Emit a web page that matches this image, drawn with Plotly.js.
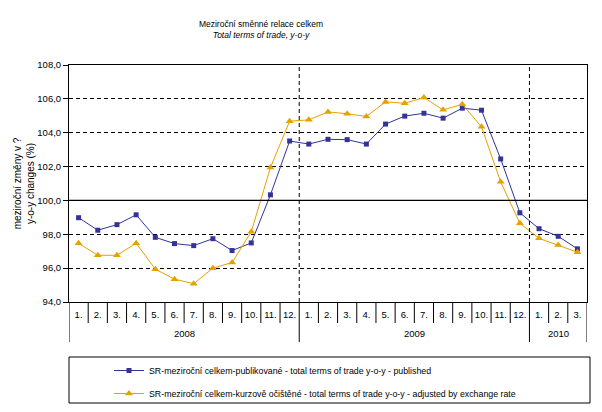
<!DOCTYPE html>
<html>
<head>
<meta charset="utf-8">
<script src="https://cdn.plot.ly/plotly-3.0.1.min.js"></script>
<style>html,body{margin:0;padding:0;background:#fff;}#chart{width:602px;height:412px;}</style>
</head>
<body>
<div id="chart"></div>
<script>
var months = ['1.','2.','3.','4.','5.','6.','7.','8.','9.','10.','11.','12.',
              '1.','2.','3.','4.','5.','6.','7.','8.','9.','10.','11.','12.',
              '1.','2.','3.'];
var years = ['2008','2009','2010'];
var yearCounts = [12, 12, 3];
var published = [98.98, 98.24, 98.57, 99.15, 97.82, 97.45, 97.33, 97.74, 97.04, 97.49, 100.33, 103.51,
                 103.33, 103.61, 103.59, 103.33, 104.51, 104.98, 105.15, 104.86, 105.45, 105.33, 102.45, 99.27,
                 98.33, 97.88, 97.14];
var adjusted = [97.47, 96.76, 96.76, 97.47, 95.94, 95.35, 95.08, 96.00, 96.33, 98.15, 101.94, 104.68,
                104.76, 105.23, 105.12, 104.96, 105.82, 105.74, 106.08, 105.35, 105.68, 104.35, 101.10, 98.65,
                97.76, 97.37, 96.94];
var seriesNames = ['SR-meziroční celkem-publikované - total terms of trade y-o-y - published',
                   'SR-meziroční celkem-kurzově očištěné - total terms of trade y-o-y - adjusted by exchange rate'];

var FONT = 'Arial, "Liberation Sans", sans-serif';
var BLUE = '#333399', ORANGE = '#E5A100';
var idx = months.map(function(_, i){ return i; });

var traces = [
  {x: idx, y: published, name: seriesNames[0], type: 'scatter', mode: 'lines+markers',
   line: {color: BLUE, width: 1}, marker: {symbol: 'square', size: 5, color: BLUE}, legendgroup: 'a'},
  {x: idx, y: adjusted, name: seriesNames[1], type: 'scatter', mode: 'lines+markers',
   line: {color: ORANGE, width: 1}, marker: {symbol: 'triangle-up', size: 7, color: ORANGE}, legendgroup: 'b'}
];

// table geometry (paper units below the plot)
var plotH = 237;
var monthRowBottom = -21 / plotH;
var yearRowBottom = -40 / plotH;
var yearLabelY = -31 / plotH;

var shapes = [
  {type: 'line', xref: 'paper', yref: 'y', x0: 0, x1: 1, y0: 100, y1: 100, line: {color: '#000', width: 1.2}}
];
var annotations = [];
var boundaries = [];
var start = 0;
years.forEach(function(yr, k){
  boundaries.push(start - 0.5);
  annotations.push({xref: 'x', yref: 'paper', x: start + yearCounts[k] / 2 - 0.5, y: yearLabelY,
    text: yr, showarrow: false, font: {family: FONT, size: 9.5, color: '#000'}, yanchor: 'middle'});
  start += yearCounts[k];
});
boundaries.push(start - 0.5);
boundaries.forEach(function(b, k){
  shapes.push({type: 'line', xref: 'x', yref: 'paper', x0: b, x1: b, y0: 0, y1: yearRowBottom, line: {color: '#000', width: 1}});
  if (k > 0 && k < boundaries.length - 1) {
    shapes.push({type: 'line', xref: 'x', yref: 'paper', x0: b, x1: b, y0: 0, y1: 1, line: {color: '#000', width: 1, dash: '4px,3px'}});
  }
});
for (var i = 1; i < months.length; i++) {
  if (boundaries.indexOf(i - 0.5) === -1) {
    shapes.push({type: 'line', xref: 'x', yref: 'paper', x0: i - 0.5, x1: i - 0.5, y0: 0, y1: monthRowBottom, line: {color: '#000', width: 1}});
  }
}
// legend box
shapes.push({type: 'rect', xref: 'paper', yref: 'paper', x0: 0, x1: (590 - 69) / 518, y0: -(357 - 302) / plotH, y1: -(403 - 302) / plotH,
  line: {color: '#000', width: 1}, fillcolor: 'rgba(0,0,0,0)'});

var layout = {
  width: 602, height: 412,
  margin: {l: 69, r: 15, t: 65, b: 110, autoexpand: false},
  paper_bgcolor: '#fff', plot_bgcolor: '#fff',
  separators: ', ',
  font: {family: FONT, size: 9.5, color: '#000'},
  title: {text: 'Meziroční směnné relace celkem<br><i>Total terms of trade, y-o-y</i>',
    font: {family: FONT, size: 8.5, color: '#000'},
    xref: 'paper', x: (261 - 69) / 518, xanchor: 'center',
    yref: 'container', y: 1 - 27 / 412, yanchor: 'middle'},
  xaxis: {range: [-0.5, months.length - 0.5], tickmode: 'array', tickvals: idx, ticktext: months,
    showgrid: false, zeroline: false, showline: true, mirror: true, linecolor: '#000', linewidth: 1,
    ticks: '', ticklabelstandoff: 4, tickfont: {family: FONT, size: 9.5, color: '#000'}, fixedrange: true},
  yaxis: {range: [94, 108], dtick: 2, tick0: 94, tickformat: '.1f',
    showgrid: true, gridcolor: '#000', gridwidth: 1, griddash: '4px,3px',
    zeroline: false, showline: true, mirror: true, linecolor: '#000', linewidth: 1,
    ticks: 'outside', ticklen: 5, tickcolor: '#000', tickfont: {family: FONT, size: 9.5, color: '#000'},
    title: {text: 'meziroční změny v ?<br>y-o-y changes (%)', font: {family: FONT, size: 10, color: '#000'}, standoff: 0}},
  showlegend: true,
  legend: {x: (109 - 69) / 518, xanchor: 'left', y: -(356 - 302) / plotH, yanchor: 'top',
    bgcolor: 'rgba(0,0,0,0)', borderwidth: 0, font: {family: FONT, size: 8.8, color: '#000'},
    traceorder: 'grouped', tracegroupgap: 4},
  shapes: shapes,
  annotations: annotations
};

Plotly.newPlot('chart', traces, layout, {displayModeBar: false, staticPlot: true});
</script>
</body>
</html>
